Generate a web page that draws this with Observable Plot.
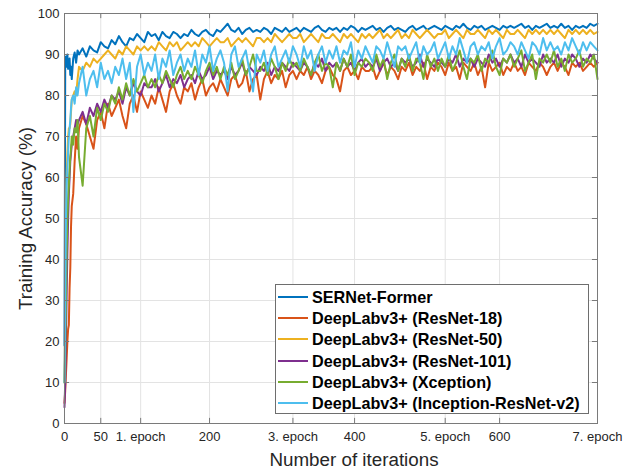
<!DOCTYPE html>
<html><head><meta charset="utf-8">
<script src="https://cdn.jsdelivr.net/npm/d3@7"></script>
<script src="https://cdn.jsdelivr.net/npm/@observablehq/plot@0.6"></script>
<style>
body{margin:0;background:#fff;font-family:"Liberation Sans",Arial,sans-serif;}
#wrap{position:relative;width:636px;height:471px;}
#legend{position:absolute;left:275px;top:284px;width:314px;height:130px;border:1px solid #6e6e6e;background:#fff;box-sizing:border-box;}
.row{position:absolute;left:0;height:21px;display:flex;align-items:center;font-weight:bold;font-size:16.2px;color:#000;white-space:nowrap;font-family:"Liberation Sans",Arial,sans-serif;}
.sw{width:30px;height:2px;margin-left:2px;margin-right:4px}
</style></head>
<body><div id="wrap"></div>
<script>
const seriesNames = ["SERNet-Former","DeepLabv3+ (ResNet-18)","DeepLabv3+ (ResNet-50)","DeepLabv3+ (ResNet-101)","DeepLabv3+ (Xception)","DeepLabv3+ (Inception-ResNet-v2)"];
const seriesColors = ["#0072BD","#D95319","#EDB120","#7E2F8E","#77AC30","#4DBEEE"];
const xTicks = [0,50,105,200,315,400,525,600,735];
const xTickLabels = ["0","50","1. epoch","200","3. epoch","400","5. epoch","600","7. epoch"];
const yTicks = [0,10,20,30,40,50,60,70,80,90,100];
const xTitle = "Number of iterations";
const yTitle = "Training Accuracy (%)";

// iteration positions of the sampled values
const iterations = [0,1,2,3,4,5,6,7,8,9,10,12,14,16,18].concat(d3.range(20, 736, 5));

const sernet = [19,88,89.5,87,90,86.5,88,89,85,87,84,89,90.5,88,91,
 90,91.5,89.5,92,91,90.5,93,92,91.5,93.5,
 92.5,94.5,93,92,94,93.5,95,94,93,95.5,
 94.5,95,93.5,95.5,94.5,94,95.5,95,94,95,
 94.5,96,95,94.5,95.5,96,95,94.5,96,95.5,
 96.5,97.5,96,95.5,96.5,95,96,96.5,95.5,96,
 95.5,96.5,96,95,96.5,96,95.5,96.5,95.5,96,
 96.5,95.5,96.5,96,95.5,96.5,97,96,95.5,96.5,
 96,96.5,95.5,96.5,96,97,96.5,95.5,96.5,96,
 96.5,97,96,96.5,95.5,96.5,97,96,96.5,96,
 95.5,96.5,97,96,96.5,97,96,96.5,97,96.5,
 96,97,96.5,96,97,96.5,97.5,96.5,96,97,
 96.5,97,96,96.5,97,96.5,96,97,96.5,97,
 96.5,97,97.5,96.5,97,96,97,96.5,97,97.5,
 96.5,97,96.5,97.5,96.5,97,96,97,96.5,97,
 96.5,97.5,97,97.5];
const resnet18 = [5,8,12,16,20,23,24,33,38,48,53,56,64,70,67,
 72,75,73,70,67,74,76,72,78,75,
 77,79,75,72,78,80,76,81,79,77,
 80,78,82,79,76,81,83,80,78,82,
 81,83,79,82,84,80,82,83,81,84,
 82,80,84,85,82,83,86,81,84,85,
 79,84,86,83,85,84,86,82,85,86,
 84,86,85,87,84,86,85,83,86,87,
 85,84,81,86,87,85,86,84,87,86,
 86,87,84,86,88,85,87,86,84,87,
 86,88,85,87,86,88,84,87,86,88,
 87,85,88,86,87,84,88,87,86,88,
 85,87,82,88,86,87,88,85,87,86,
 88,86,87,85,88,87,86,88,87,85,
 87,88,86,88,87,85,88,87,88,86,
 87,88,87,88];
const resnet50 = [10,28,48,60,66,70,72,72,73,76,79,80,81,80,84,
 87,86,88,87,89,88,89,90,91,90,
 89,91,90,92,91,90,92,91,92,91,
 92,91,93,92,91,93,92,93,91,92,
 93,92,93,92,94,93,92,93,94,93,
 93,94,92,93,94,93,94,93,92,94,
 94,93,94,93,95,94,93,94,95,94,
 94,95,93,94,95,94,93,95,94,94,
 95,94,93,95,94,95,94,93,95,94,
 95,94,95,96,94,95,94,95,96,94,
 95,94,96,95,94,95,96,95,94,95,
 95,96,94,95,96,95,94,96,95,95,
 96,95,94,96,95,96,95,94,96,95,
 95,96,95,94,96,95,96,95,96,95,
 96,95,96,95,94,96,95,96,95,96,
 95,96,95,95.5];
const resnet101 = [4,10,20,32,42,50,56,60,64,66,68,70,72,74,73,
 74,76,73,77,75,78,76,79,77,80,
 79,81,78,82,80,83,81,80,83,82,
 82,84,81,83,85,82,84,83,85,82,
 84,85,83,86,84,85,87,84,86,85,
 86,84,87,85,86,88,85,87,86,85,
 87,86,88,85,87,86,88,87,86,88,
 87,86,88,87,85,88,87,89,86,88,
 87,88,86,89,87,88,86,88,89,87,
 88,87,89,86,88,89,87,88,86,89,
 88,89,87,88,90,87,89,88,87,89,
 88,87,89,88,90,87,89,88,89,87,
 89,88,87,90,88,89,87,89,88,90,
 88,89,87,90,88,89,88,87,90,88,
 89,88,90,87,89,88,90,89,87,89,
 88,90,89,88];
const xception = [10,18,30,42,50,55,58,62,65,67,70,68,72,71,74,
 65,58,72,75,70,77,74,78,76,80,
 78,82,79,83,80,84,81,83,85,82,
 84,82,85,83,86,84,82,85,87,84,
 86,84,87,85,83,86,88,85,87,84,
 87,85,88,84,86,89,85,87,90,86,
 86,88,85,89,87,84,88,86,89,87,
 88,86,89,87,85,88,90,86,88,87,
 82,88,86,89,87,90,85,88,87,89,
 88,86,90,87,89,84,88,90,86,89,
 87,90,86,89,88,84,90,87,89,86,
 89,87,90,86,88,91,87,84,89,88,
 90,86,89,88,91,87,85,89,88,90,
 87,89,91,86,88,90,84,89,88,90,
 88,91,87,89,86,90,88,89,91,87,
 89,88,90,84];
const inception = [10,30,50,58,62,66,70,72,74,77,79,80,78,82,80,
 83,87,80,84,86,82,88,84,86,83,
 87,85,89,84,88,76,87,90,85,88,
 86,90,84,89,87,91,85,88,90,86,
 89,87,91,85,90,88,92,86,89,91,
 88,81,90,92,87,89,91,86,81,90,
 88,91,86,90,92,87,89,91,88,92,
 90,87,92,89,91,86,90,92,88,91,
 89,92,88,91,90,93,87,91,89,92,
 90,88,92,91,89,93,90,87,92,91,
 92,89,91,93,88,92,90,91,93,89,
 91,93,89,92,90,94,91,88,92,93,
 90,92,91,93,89,92,94,90,91,93,
 92,90,93,91,89,93,92,90,94,91,
 93,91,92,90,93,91,94,92,90,93,
 91,93,92,91];

const allSeries = [sernet, resnet18, resnet50, resnet101, xception, inception];
const axisColor = "#7a7a7a";
const textColor = "#262626";
const labelMap = new Map(xTicks.map((t, i) => [t, xTickLabels[i]]));

const lineMarks = allSeries.map((vals, s) =>
  Plot.line(vals.map((v, i) => ({x: iterations[i], y: v})), {x: "x", y: "y", stroke: seriesColors[s], strokeWidth: 2})
);

const chart = Plot.plot({
  width: 636, height: 471,
  marginLeft: 64, marginRight: 39, marginTop: 13, marginBottom: 48,
  style: {fontFamily: "'Liberation Sans', Arial, sans-serif", background: "#fff"},
  x: {domain: [0, 735]},
  y: {domain: [0, 100]},
  marks: [
    Plot.gridX(xTicks, {stroke: "#e3e3e3", strokeOpacity: 1}),
    Plot.gridY(yTicks, {stroke: "#e3e3e3", strokeOpacity: 1}),
    ...lineMarks,
    Plot.ruleX(xTicks, {y1: 0, y2: 1.25, stroke: axisColor}),
    Plot.ruleX(xTicks, {y1: 100, y2: 98.75, stroke: axisColor}),
    Plot.ruleY(yTicks, {x1: 0, x2: 7, stroke: axisColor}),
    Plot.ruleY(yTicks, {x1: 735, x2: 728, stroke: axisColor}),
    Plot.frame({stroke: axisColor}),
    Plot.axisX(xTicks, {tickSize: 0, tickPadding: 8, fontSize: 13, label: null, fill: textColor, tickFormat: d => labelMap.get(d)}),
    Plot.axisY(yTicks, {tickSize: 0, tickPadding: 5, fontSize: 13, label: null, fill: textColor}),
    Plot.text([xTitle], {text: d => d, frameAnchor: "bottom", textAnchor: "middle", lineAnchor: "middle", dx: 23, dy: 36, fontSize: 18.8, fill: textColor}),
    Plot.text([yTitle], {text: d => d, frameAnchor: "left", textAnchor: "middle", lineAnchor: "middle", dx: -39, rotate: -90, fontSize: 18.8, fill: textColor})
  ]
});
const wrap = document.getElementById("wrap");
wrap.appendChild(chart);

const legend = document.createElement("div");
legend.id = "legend";
const centers = [13, 34, 55, 77, 98, 119];
seriesNames.forEach((name, i) => {
  const row = document.createElement("div");
  row.className = "row";
  row.style.top = (centers[i] - 11.5) + "px";
  const sw = document.createElement("div");
  sw.className = "sw";
  sw.style.background = seriesColors[i];
  const t = document.createElement("span");
  t.textContent = name;
  row.appendChild(sw);
  row.appendChild(t);
  legend.appendChild(row);
});
wrap.appendChild(legend);
</script>
</body></html>
